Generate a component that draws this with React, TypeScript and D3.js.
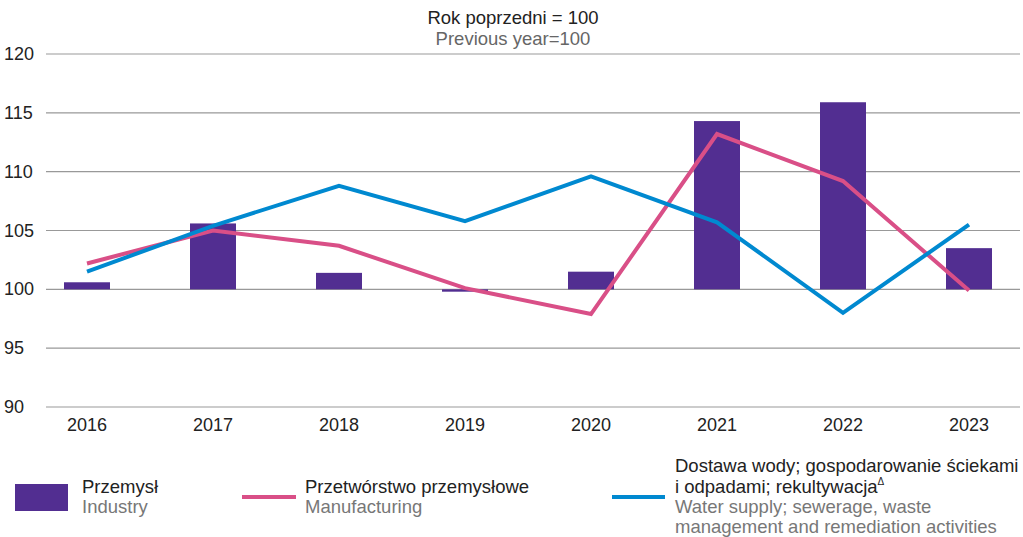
import * as d3 from 'd3';
import React, { useEffect, useRef } from 'react';

const years = ['2016', '2017', '2018', '2019', '2020', '2021', '2022', '2023'];
const industry = [100.6, 105.6, 101.4, 99.8, 101.5, 114.3, 115.9, 103.5];
const manufacturing = [102.2, 105.0, 103.7, 100.1, 97.9, 113.2, 109.2, 99.9];
const waterSupply = [101.5, 105.4, 108.8, 105.8, 109.6, 105.7, 98.0, 105.5];
const yTicks = [90, 95, 100, 105, 110, 115, 120];

const W = 1023;
const H = 537;
const FONT = '"Liberation Sans", Arial, sans-serif';

export default function App() {
  const ref = useRef<SVGSVGElement>(null);

  useEffect(() => {
    const svg = d3.select(ref.current);
    svg.selectAll('*').remove();

    const x = d3.scalePoint<string>().domain(years).range([87, 969]);
    const y = d3.scaleLinear().domain([90, 120]).range([407, 54]);
    const barW = 46;

    // title
    svg.append('text').attr('x', 513).attr('y', 24).attr('text-anchor', 'middle')
      .style('font-size', '18.5px').attr('fill', '#222').text('Rok poprzedni = 100');
    svg.append('text').attr('x', 513).attr('y', 45).attr('text-anchor', 'middle')
      .style('font-size', '18.5px').attr('fill', '#666').text('Previous year=100');

    // grid + y labels
    const grid = svg.append('g');
    grid.selectAll('line').data(yTicks).enter().append('line')
      .attr('x1', 46).attr('x2', 1020)
      .attr('y1', d => y(d)).attr('y2', d => y(d))
      .attr('stroke', '#999').attr('stroke-width', 1.2);
    grid.selectAll('text').data(yTicks).enter().append('text')
      .attr('x', 4).attr('y', d => y(d) + 6)
      .style('font-size', '18px').attr('fill', '#222').text(d => d);

    // bars
    svg.append('g').selectAll('rect').data(industry).enter().append('rect')
      .attr('x', (d, i) => (x(years[i]) as number) - barW / 2)
      .attr('width', barW)
      .attr('y', d => Math.min(y(d), y(100)))
      .attr('height', d => Math.abs(y(d) - y(100)))
      .attr('fill', '#522e91');

    const line = d3.line<number>()
      .x((d, i) => x(years[i]) as number)
      .y(d => y(d));

    svg.append('path').datum(manufacturing).attr('d', line)
      .attr('fill', 'none').attr('stroke', '#d94f87').attr('stroke-width', 4);
    svg.append('path').datum(waterSupply).attr('d', line)
      .attr('fill', 'none').attr('stroke', '#0089d0').attr('stroke-width', 4);

    // x labels
    svg.append('g').selectAll('text').data(years).enter().append('text')
      .attr('x', d => x(d) as number).attr('y', 431).attr('text-anchor', 'middle')
      .style('font-size', '18px').attr('fill', '#222').text(d => d);

    // legend
    const lg = svg.append('g').style('font-size', '18.5px');
    lg.append('rect').attr('x', 15).attr('y', 484).attr('width', 53).attr('height', 27).attr('fill', '#522e91');
    lg.append('text').attr('x', 82).attr('y', 493).attr('fill', '#222').text('Przemysł');
    lg.append('text').attr('x', 82).attr('y', 513).attr('fill', '#777').text('Industry');

    lg.append('line').attr('x1', 242).attr('x2', 296).attr('y1', 497).attr('y2', 497)
      .attr('stroke', '#d94f87').attr('stroke-width', 4);
    lg.append('text').attr('x', 305).attr('y', 493).attr('fill', '#222').text('Przetwórstwo przemysłowe');
    lg.append('text').attr('x', 305).attr('y', 513).attr('fill', '#777').text('Manufacturing');

    lg.append('line').attr('x1', 612).attr('x2', 665).attr('y1', 497).attr('y2', 497)
      .attr('stroke', '#0089d0').attr('stroke-width', 4);
    lg.append('text').attr('x', 675).attr('y', 472).attr('fill', '#222').text('Dostawa wody; gospodarowanie ściekami');
    const t2 = lg.append('text').attr('x', 675).attr('y', 493).attr('fill', '#222');
    t2.append('tspan').text('i odpadami; rekultywacja');
    t2.append('tspan').attr('dy', -8).style('font-size', '10px').text('Δ');
    lg.append('text').attr('x', 675).attr('y', 513).attr('fill', '#777').text('Water supply; sewerage, waste');
    lg.append('text').attr('x', 675).attr('y', 533).attr('fill', '#777').text('management and remediation activities');
  }, []);

  return (
    <svg ref={ref} width={W} height={H}
      style={{ position: 'absolute', left: 0, top: 0, fontFamily: FONT, background: '#fff' }} />
  );
}
